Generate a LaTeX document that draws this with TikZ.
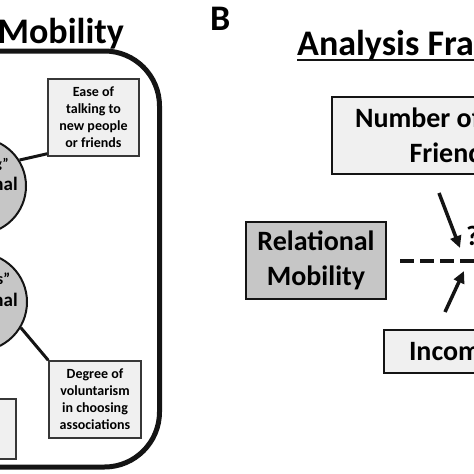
\documentclass[tikz,border=0pt]{standalone}
\usepackage{fontspec}
\setmainfont{Carlito}
\usepackage{tikz}
\usetikzlibrary{arrows.meta, positioning, calc}
\definecolor{mydark}{RGB}{20,20,20}
\definecolor{myedge}{RGB}{55,55,55}
\definecolor{hdrgray}{RGB}{240,240,240}
\definecolor{midgray}{RGB}{198,198,198}
\tikzset{
  facetbox/.style={rectangle, draw=myedge, fill=hdrgray, line width=1.5pt,
    align=center, inner sep=0pt,
    font=\fontsize{14}{17}\selectfont\bfseries},
  facet/.style={circle, draw=mydark, fill=midgray, line width=2pt,
    align=center, inner sep=-12pt,
    font=\fontsize{19}{22}\selectfont\bfseries},
  varbox/.style={rectangle, draw=mydark, fill=hdrgray, line width=2pt,
    align=center, inner sep=0pt,
    font=\fontsize{28}{35}\selectfont\bfseries},
  link/.style={line width=3pt, color=mydark},
  arrow/.style={-{Triangle[length=12pt,width=11pt]}, line width=3.5pt, color=mydark},
  dashline/.style={line width=4pt, color=mydark, dash pattern=on 14pt off 6pt},
  title/.style={font=\fontsize{36}{40}\selectfont\bfseries, inner sep=0pt}
}
\newcommand{\facetsub}[1]{{\fontsize{13}{13}\selectfont\mdseries #1}}

\begin{document}
\begin{tikzpicture}[x=1pt, y=-1pt]
  \useasboundingbox (0,0) rectangle (474,474);
  \clip (0,0) rectangle (474,474);

  % Panel A
  \node[title, anchor=base east] (titleA) at (124,43) {Relational Mobility};
  \draw[line width=5pt, color=mydark, rounded corners=55pt] (-220,51) rectangle (159.5,467);

  \node[facet, minimum size=96pt] (meet) at (-22,186)
    {{\fontsize{14}{14}\selectfont “Meeting”}\\Relational\\\facetsub{Mobility}};
  \node[facet, minimum size=98pt] (choose) at (-22,302)
    {{\fontsize{16}{16}\selectfont “Choices”}\\Relational\\\facetsub{Mobility}};

  \node[facetbox, minimum width=91pt, minimum height=77pt] (ease) at (93.5,117.5)
    {Ease of\\talking to\\new people\\or friends};
  \node[facetbox, minimum width=92pt, minimum height=77pt] (degree) at (95,399.5)
    {Degree of\\voluntarism\\in choosing\\associations};
  \node[facetbox, minimum width=80pt, minimum height=60pt] (scale) at (-24,429) {};

  \draw[link] (meet.32) -- ([yshift=3pt]ease.south west);
  \draw[link] (choose.-31) -- (degree.north west);

  % Panel B
  \node[title, anchor=base west] (labelB) at (210,30) {B};
  \node[title, anchor=base west] (titleB) at (297,55) {Analysis Framework};
  \draw[line width=2pt, color=mydark] ([yshift=-5pt]titleB.base west) -- ([yshift=-5pt]titleB.base east);

  \node[varbox, minimum width=240pt, minimum height=77pt] (friends) at (452,135.5)
    {Number of Close\\Friends};
  \node[varbox, fill=midgray, minimum width=140pt, minimum height=77pt] (rm) at (316,260.5)
    {Relational\\Mobility};
  \node[varbox, minimum width=136pt, minimum height=43pt] (income) at (452,351.5) {Income};

  \coordinate (outcome) at (600,260.5);
  \draw[dashline] ([xshift=13pt]rm.east) -- (outcome);
  \node[font=\fontsize{28}{28}\selectfont\bfseries, inner sep=0pt, anchor=base west] (q) at (466,245) {?};

  \draw[arrow] ($(friends.south)+(-13,18)$) -- ($(friends.south)+(8,73)$);
  \draw[arrow] ($(income.north)+(-7,-17)$) -- ($(income.north)+(12,-58)$);
\end{tikzpicture}
\end{document}
